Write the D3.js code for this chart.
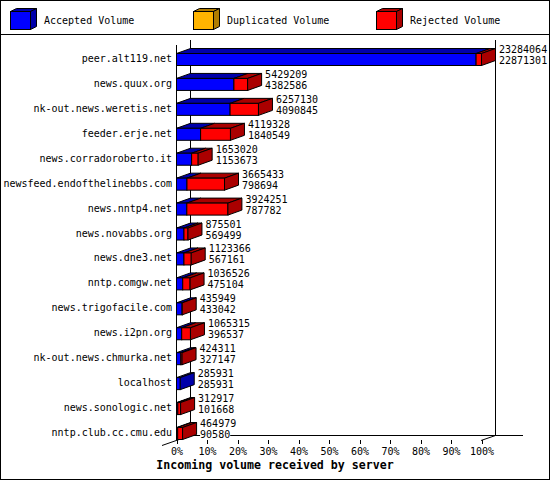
<!DOCTYPE html>
<html>
<head>
<meta charset="utf-8">
<script src="https://cdn.jsdelivr.net/npm/d3@7"></script>
<style>
  body { margin: 0px; background: white; }
  text { font-family: "DejaVu Sans Mono", "Liberation Mono", monospace; font-size: 10px; fill: black; }
</style>
</head>
<body>
<svg id="mysvg"></svg>
<script>

  // data
  var hosts = ["peer.alt119.net", "news.quux.org", "nk-out.news.weretis.net", "feeder.erje.net",
    "news.corradoroberto.it", "newsfeed.endofthelinebbs.com", "news.nntp4.net", "news.novabbs.org",
    "news.dne3.net", "nntp.comgw.net", "news.trigofacile.com", "news.i2pn.org",
    "nk-out.news.chmurka.net", "localhost", "news.sonologic.net", "nntp.club.cc.cmu.edu"];
  var totalVolume = [23284064, 5429209, 6257130, 4119328, 1653020, 3665433, 3924251, 875501,
    1123366, 1036526, 435949, 1065315, 424311, 285931, 312917, 464979];
  var acceptedVolume = [22871301, 4382586, 4090845, 1840549, 1153673, 798694, 787782, 569499,
    567161, 475104, 433042, 396537, 327147, 285931, 101668, 90580];
  var duplicatedVolume = [0, 0, 0, 0, 0, 0, 0, 0, 0, 0, 0, 0, 0, 0, 0, 0];
  var legendNames = ["Accepted Volume", "Duplicated Volume", "Rejected Volume"];
  var percentTicks = [0, 10, 20, 30, 40, 50, 60, 70, 80, 90, 100];

  var W = 550, H = 480;
  var dx = 14, dy = 5;   // 3d depth
  var half = 6;          // half bar height
  var fronts = ["#0000ff", "#ffb400", "#ff0000"];
  var sides = ["#0000aa", "#b07c00", "#aa0000"];

  var svg = d3.select("#mysvg")
    .attr("width", W)
    .attr("height", H);

  svg.append("rect")
    .attr("x", 0.5).attr("y", 0.5)
    .attr("width", W - 1).attr("height", H - 1)
    .attr("fill", "white").attr("stroke", "black");

  svg.append("line")
    .attr("x1", 0).attr("x2", W)
    .attr("y1", 34.5).attr("y2", 34.5)
    .attr("stroke", "black");

  // legend cubes
  var legendX = [10, 193, 376];
  var leg = svg.selectAll(".leg")
    .data(legendNames)
    .enter().append("g")
    .attr("class", "leg")
    .attr("transform", function(d, i){ return "translate(" + legendX[i] + ",11)"; });

  leg.append("polygon")
    .attr("points", "0.5,0.5 6.5,-2.5 26.5,-2.5 20.5,0.5")
    .attr("fill", function(d, i){ return sides[i]; })
    .attr("stroke", "black");
  leg.append("polygon")
    .attr("points", "20.5,0.5 26.5,-2.5 26.5,15.5 20.5,18.5")
    .attr("fill", function(d, i){ return sides[i]; })
    .attr("stroke", "black");
  leg.append("rect")
    .attr("x", 0.5).attr("y", 0.5)
    .attr("width", 20).attr("height", 18)
    .attr("fill", function(d, i){ return fronts[i]; })
    .attr("stroke", "black");
  leg.append("text")
    .attr("x", 34).attr("y", 13)
    .text(function(d){ return d; });

  var maxTotal = d3.max(totalVolume);

  var xScale = d3.scaleLinear()
    .domain([0, maxTotal])
    .range([176, 481]);

  var pctScale = d3.scaleLinear()
    .domain([0, 100])
    .range([176, 481]);

  var yScale = d3.scalePoint()
    .domain(hosts)
    .range([59, 433]);

  var lines = svg.append("g")
    .attr("stroke", "black")
    .attr("shape-rendering", "crispEdges");

  // back wall and floor
  lines.append("line").attr("x1", 190.5).attr("x2", 190.5).attr("y1", 40).attr("y2", 435);
  lines.append("line").attr("x1", 495.5).attr("x2", 495.5).attr("y1", 40).attr("y2", 435);
  lines.append("line").attr("x1", 190).attr("x2", 523).attr("y1", 435.5).attr("y2", 435.5);
  lines.append("line").attr("x1", 176.5).attr("x2", 176.5).attr("y1", 45).attr("y2", 440);
  svg.append("line").attr("x1", 162).attr("y1", 445.5).attr("x2", 190.5).attr("y2", 435.5)
    .attr("stroke", "black");
  svg.append("line").attr("x1", 481).attr("y1", 440.5).attr("x2", 495.5).attr("y2", 435.5)
    .attr("stroke", "black");

  // bars
  hosts.forEach(function(h, i){
    var c = yScale(h);
    var y0 = c - half + 0.5, y1 = c + half + 0.5;
    var rejected = totalVolume[i] - acceptedVolume[i] - duplicatedVolume[i];
    var parts = [acceptedVolume[i], duplicatedVolume[i], rejected];
    var g = svg.append("g").attr("stroke", "black");
    var start = 0, last = -1;
    var segs = [];
    parts.forEach(function(v, k){
      if (v > 0) {
        segs.push({k: k, a: xScale(start) + 0.5, b: xScale(start + v) + 0.5});
        last = segs.length - 1;
      }
      start += v;
    });
    segs.forEach(function(s){
      g.append("polygon")
        .attr("points", [[s.a, y0], [s.b, y0], [s.b + dx, y0 - dy], [s.a + dx, y0 - dy]].join(" "))
        .attr("fill", sides[s.k]);
      g.append("rect")
        .attr("x", s.a).attr("y", y0)
        .attr("width", s.b - s.a).attr("height", y1 - y0)
        .attr("fill", fronts[s.k]);
    });
    var e = segs[last];
    g.append("polygon")
      .attr("points", [[e.b, y0], [e.b + dx, y0 - dy], [e.b + dx, y1 - dy], [e.b, y1]].join(" "))
      .attr("fill", sides[e.k]);

    // value labels
    var lx = xScale(totalVolume[i]) + dx + 4;
    [totalVolume[i], acceptedVolume[i]].forEach(function(v, j){
      var t = svg.append("text")
        .attr("x", lx)
        .attr("y", j == 0 ? c - 6 : c + 5)
        .text(v);
      var len = t.node().getComputedTextLength();
      svg.insert("rect", function(){ return t.node(); })
        .attr("x", lx).attr("y", (j == 0 ? c - 6 : c + 5) - 8)
        .attr("width", len).attr("height", 10)
        .attr("fill", "white");
    });

    svg.append("text")
      .attr("x", 172)
      .attr("y", c + 3)
      .attr("text-anchor", "end")
      .text(h);
  });

  var axis = d3.axisBottom(pctScale)
    .tickValues(percentTicks)
    .tickSize(4)
    .tickPadding(4)
    .tickFormat(function(d){ return d + "%"; });

  var ax = svg.append("g")
    .attr("transform", "translate(0.5,440)")
    .call(axis);
  ax.select(".domain").remove();
  ax.selectAll("line").attr("stroke", "black").attr("shape-rendering", "crispEdges");
  ax.selectAll("text")
    .attr("font-family", "DejaVu Sans Mono")
    .attr("font-size", "10px")
    .attr("fill", "black");

  svg.append("text")
    .attr("x", W / 2)
    .attr("y", 469)
    .attr("text-anchor", "middle")
    .style("font-weight", "bold")
    .style("font-size", "11.6px")
    .text("Incoming volume received by server");

</script>
</body>
</html>
